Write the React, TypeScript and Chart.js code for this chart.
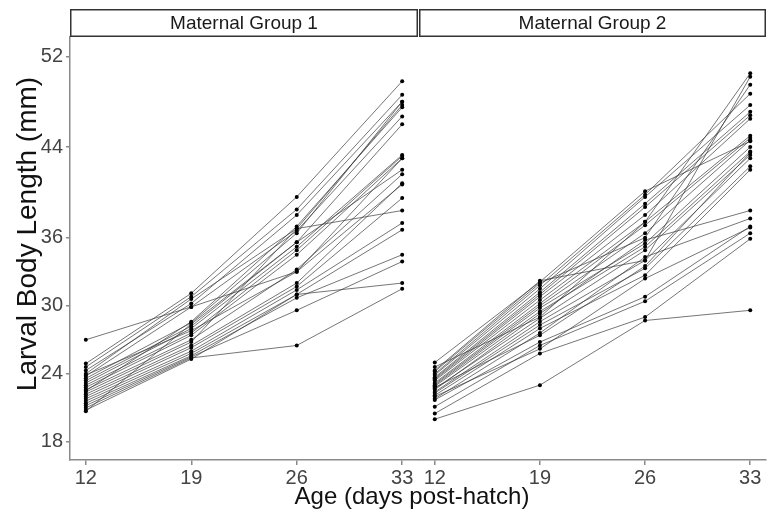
import React, { useEffect, useRef } from "react";
import { Chart, registerables } from "chart.js";

Chart.register(...registerables);

// ---------------- data ----------------
const ages = [12, 19, 26, 33];
const xTicks = [12, 19, 26, 33];
const yTicks = [18, 24, 30, 36, 44, 52];
const panelTitles = ["Maternal Group 1", "Maternal Group 2"];
const xTitle = "Age (days post-hatch)";
const yTitle = "Larval Body Length (mm)";

// body length (mm) of each larva at ages 12, 19, 26, 33
const group1Lengths: number[][] = [
  [27.0, 29.9, 33.0, 40.7],
  [24.9, 31.1, 39.6, 49.8],
  [24.6, 30.8, 38.5, 48.6],
  [24.3, 30.2, 38.0, 48.0],
  [24.0, 30.6, 36.8, 47.7],
  [23.8, 29.9, 36.6, 46.7],
  [23.6, 28.5, 36.4, 48.0],
  [23.4, 28.2, 35.6, 46.0],
  [23.2, 28.0, 35.2, 43.3],
  [23.0, 27.6, 34.9, 43.2],
  [22.8, 27.4, 34.5, 43.0],
  [22.6, 27.0, 33.2, 41.6],
  [22.4, 26.8, 36.8, 38.4],
  [22.2, 26.5, 32.0, 40.8],
  [22.0, 26.3, 31.7, 39.5],
  [21.8, 26.0, 31.4, 37.3],
  [21.6, 25.8, 31.0, 36.7],
  [21.4, 25.6, 30.7, 34.5],
  [21.2, 25.5, 29.6, 33.9],
  [21.0, 25.4, 26.5, 31.5],
  [20.8, 25.3, 31.0, 32.0],
  [20.7, 28.4, 35.6, 42.0],
  [23.9, 27.8, 33.0, 43.0],
  [22.5, 28.6, 37.0, 47.5],
];

const group2Lengths: number[][] = [
  [20.0, 23.0, 28.7, 29.6],
  [20.5, 25.8, 29.0, 35.9],
  [21.1, 26.5, 30.4, 36.4],
  [21.7, 26.8, 30.8, 37.0],
  [21.8, 27.6, 34.3, 37.7],
  [22.0, 26.2, 32.4, 36.9],
  [22.1, 28.0, 32.7, 42.0],
  [22.3, 28.3, 33.3, 42.3],
  [22.4, 28.6, 34.0, 43.0],
  [22.6, 29.3, 35.8, 38.4],
  [22.7, 28.9, 34.9, 43.3],
  [22.9, 29.5, 35.2, 43.6],
  [23.0, 29.8, 35.5, 44.0],
  [23.1, 30.0, 36.4, 44.6],
  [23.2, 30.2, 37.1, 44.8],
  [23.4, 30.5, 37.4, 45.0],
  [23.5, 30.8, 38.0, 46.5],
  [23.6, 31.0, 38.7, 46.8],
  [23.7, 31.2, 39.0, 47.1],
  [23.9, 31.5, 39.6, 47.7],
  [24.0, 31.8, 39.8, 48.7],
  [24.2, 32.0, 36.0, 49.5],
  [24.3, 32.2, 34.0, 50.2],
  [24.6, 29.0, 37.4, 50.5],
  [25.0, 32.1, 40.1, 44.5],
  [22.8, 27.4, 33.5, 43.5],
];

// ---------------- styling ----------------
const FONT = "'Liberation Sans', Arial, Helvetica, sans-serif";
const AXIS_GREY = "#8a8a8a";

const stripPlugin = {
  id: "strip",
  afterDraw(chart: any, _args: any, opts: any) {
    const { ctx, chartArea } = chart;
    const top = 9;
    const h = 28;
    ctx.save();
    ctx.fillStyle = "#ffffff";
    ctx.strokeStyle = "#333333";
    ctx.lineWidth = 1.5;
    ctx.fillRect(chartArea.left, top, chartArea.right - chartArea.left, h);
    ctx.strokeRect(chartArea.left + 0.75, top + 0.75, chartArea.right - chartArea.left - 1.5, h - 1.5);
    ctx.fillStyle = "#1a1a1a";
    ctx.font = `19px ${FONT}`;
    ctx.textAlign = "center";
    ctx.textBaseline = "middle";
    ctx.fillText(opts.text || "", (chartArea.left + chartArea.right) / 2, top + h / 2 + 1);
    ctx.restore();
  },
};

function makeConfig(lengths: number[][], showY: boolean, title: string): any {
  return {
    type: "line",
    data: {
      datasets: lengths.map((vals, i) => ({
        label: `Larva ${i + 1}`,
        data: ages.map((a, j) => ({ x: a, y: vals[j] })),
        borderColor: "rgba(60,60,60,0.7)",
        borderWidth: 1,
        pointRadius: 2,
        pointBackgroundColor: "#000000",
        pointBorderWidth: 0,
        tension: 0,
        fill: false,
      })),
    },
    options: {
      animation: false,
      responsive: false,
      maintainAspectRatio: false,
      events: [],
      layout: { padding: { top: 37, right: showY ? 1 : 5, left: 0, bottom: 0 } },
      plugins: {
        legend: { display: false },
        tooltip: { enabled: false },
        strip: { text: title },
      },
      scales: {
        x: {
          type: "linear",
          min: 10.95,
          max: 34.05,
          afterBuildTicks: (s: any) => {
            s.ticks = xTicks.map((v) => ({ value: v }));
          },
          afterFit: (s: any) => {
            s.height = 57;
          },
          grid: {
            drawOnChartArea: false,
            drawTicks: true,
            tickLength: 5,
            color: AXIS_GREY,
            lineWidth: 1.5,
          },
          border: { display: true, color: AXIS_GREY, width: 1.5 },
          ticks: {
            font: { family: FONT, size: 20 },
            color: "#444444",
            padding: 1,
            maxRotation: 0,
            autoSkip: false,
            callback: (v: any) => String(v),
          },
        },
        y: {
          display: showY,
          type: "linear",
          min: 16.4,
          max: 53.7,
          afterBuildTicks: (s: any) => {
            s.ticks = yTicks.map((v) => ({ value: v }));
          },
          afterFit: (s: any) => {
            s.width = showY ? 70 : 0;
          },
          grid: {
            drawOnChartArea: false,
            drawTicks: true,
            tickLength: 4,
            color: AXIS_GREY,
            lineWidth: 1.5,
          },
          border: { display: true, color: AXIS_GREY, width: 1.5 },
          ticks: {
            font: { family: FONT, size: 20 },
            color: "#444444",
            padding: 3,
            autoSkip: false,
            callback: (v: any) => String(v),
          },
        },
      },
    },
    plugins: [stripPlugin],
  };
}

export default function App() {
  const ref1 = useRef<HTMLCanvasElement | null>(null);
  const ref2 = useRef<HTMLCanvasElement | null>(null);

  useEffect(() => {
    const c1 = new Chart(ref1.current as HTMLCanvasElement, makeConfig(group1Lengths, true, panelTitles[0]));
    const c2 = new Chart(ref2.current as HTMLCanvasElement, makeConfig(group2Lengths, false, panelTitles[1]));
    return () => {
      c1.destroy();
      c2.destroy();
    };
  }, []);

  return (
    <div
      style={{
        position: "absolute",
        left: 0,
        top: 0,
        width: 771,
        height: 517,
        background: "#ffffff",
        overflow: "hidden",
        fontFamily: FONT,
      }}
    >
      <canvas
        ref={ref1}
        width={422}
        height={517}
        style={{ position: "absolute", left: 0, top: 0, width: 422, height: 517 }}
      />
      <canvas
        ref={ref2}
        width={356}
        height={517}
        style={{ position: "absolute", left: 415, top: 0, width: 356, height: 517 }}
      />
      <div
        style={{
          position: "absolute",
          left: 212,
          top: 484,
          width: 400,
          height: 26,
          lineHeight: "24px",
          fontSize: 24,
          textAlign: "center",
          color: "#111111",
          whiteSpace: "nowrap",
        }}
      >
        {xTitle}
      </div>
      <div
        style={{
          position: "absolute",
          left: 27 - 200,
          top: 234 - 15,
          width: 400,
          height: 30,
          lineHeight: "30px",
          fontSize: 28,
          textAlign: "center",
          color: "#111111",
          whiteSpace: "nowrap",
          transform: "rotate(-90deg)",
          transformOrigin: "50% 50%",
        }}
      >
        {yTitle}
      </div>
    </div>
  );
}
